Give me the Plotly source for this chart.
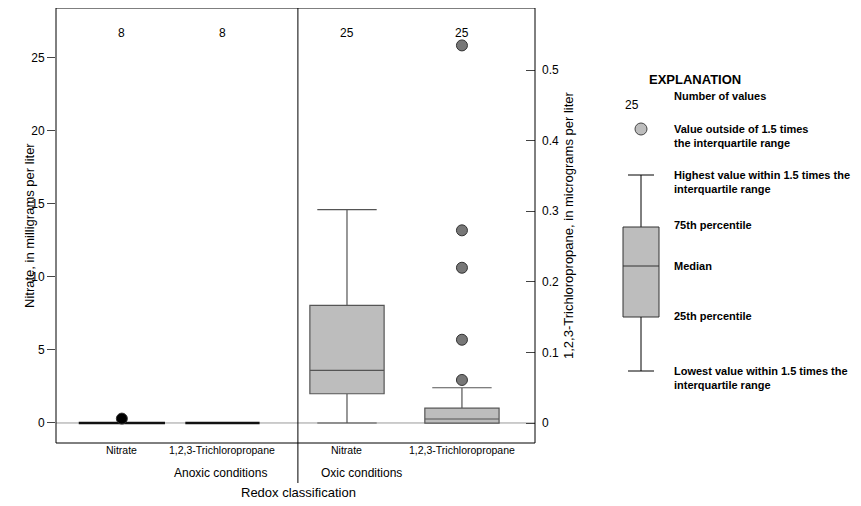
import plotly.graph_objects as go

F = "Liberation Sans"
positions = [0.55, 1.39, 2.43, 3.39]
cat_labels = ["Nitrate", "1,2,3-Trichloropropane", "Nitrate", "1,2,3-Trichloropropane"]
counts = ["8", "8", "25", "25"]
axis_of = ["y", "y2", "y", "y2"]
q1 = [0, 0, 2.0, 0.0]
med = [0, 0, 3.6, 0.0057]
q3 = [0, 0, 8.05, 0.021]
lo = [0, 0, 0, 0]
hi = [0, 0, 14.6, 0.05]
widths = [0.72, 0.62, 0.62, 0.62]
out_x = [0.55, 3.39, 3.39, 3.39, 3.39, 3.39]
out_y = [0.3, 0.061, 0.118, 0.22, 0.273, 0.535]
out_axis = ["y", "y2", "y2", "y2", "y2", "y2"]

W, H = 861, 506
L, R, T, B = 48, 527, 0, 435
def px(x): return (x - L) / (R - L)
def py(y): return (B - y) / (B - T)

fig = go.Figure()
for i in range(4):
    flat = q3[i] == q1[i]
    fig.add_trace(go.Box(x=[positions[i]], q1=[q1[i]], median=[med[i]], q3=[q3[i]],
                         lowerfence=[lo[i]], upperfence=[hi[i]], width=widths[i],
                         whiskerwidth=0.8, yaxis=axis_of[i], fillcolor="#bdbdbd",
                         line=dict(color="#111" if flat else "#555", width=2.5 if flat else 1.2),
                         boxpoints=False, showlegend=False, hoverinfo="skip"))
for x, y, a in zip(out_x, out_y, out_axis):
    fig.add_trace(go.Scatter(x=[x], y=[y], yaxis=a, mode="markers", showlegend=False,
                             marker=dict(size=11, color="#000" if a == "y" else "#777",
                                         line=dict(color="#333", width=1))))

shapes = [
    dict(type="line", xref="x", yref="y", x0=0, x1=4, y0=0, y1=0, line=dict(color="#999", width=1), layer="below"),
    dict(type="line", xref="x", yref="paper", x0=2.02, x1=2.02, y0=py(475), y1=1, line=dict(color="#000", width=1)),
    dict(type="rect", xref="paper", yref="paper", x0=0, x1=1, y0=0, y1=1, line=dict(color="#000", width=1)),
    dict(type="line", xref="paper", yref="paper", x0=px(620), x1=px(646), y0=py(167), y1=py(167), line=dict(color="#000", width=1)),
    dict(type="line", xref="paper", yref="paper", x0=px(633), x1=px(633), y0=py(167), y1=py(219), line=dict(color="#000", width=1)),
    dict(type="rect", xref="paper", yref="paper", x0=px(615), x1=px(651), y0=py(309), y1=py(219), fillcolor="#bdbdbd", line=dict(color="#333", width=1)),
    dict(type="line", xref="paper", yref="paper", x0=px(615), x1=px(651), y0=py(258), y1=py(258), line=dict(color="#333", width=1)),
    dict(type="line", xref="paper", yref="paper", x0=px(633), x1=px(633), y0=py(309), y1=py(363), line=dict(color="#000", width=1)),
    dict(type="line", xref="paper", yref="paper", x0=px(620), x1=px(646), y0=py(363), y1=py(363), line=dict(color="#000", width=1)),
    dict(type="circle", xref="paper", yref="paper", x0=px(627), x1=px(639), y0=py(127), y1=py(115), fillcolor="#bdbdbd", line=dict(color="#444", width=1)),
]
ann = []
for p, c, lab in zip(positions, counts, cat_labels):
    ann.append(dict(x=p, y=py(16), xref="x", yref="paper", text=c, showarrow=False, font=dict(size=12)))
    ann.append(dict(x=p, y=py(450), xref="x", yref="paper", text=lab, showarrow=False, font=dict(size=10.5)))
for t, x, y, s in [("Anoxic conditions", 164, 474, 12), ("Oxic conditions", 396, 474, 12), ("Redox classification", 290, 494, 13)]:
    ann.append(dict(x=px(x), y=py(y), xref="paper", yref="paper", text=t, showarrow=False, font=dict(size=s)))
ann.append(dict(x=px(735), y=py(62), xref="paper", yref="paper", text="<b>EXPLANATION</b>", showarrow=False, font=dict(size=13)))
ann.append(dict(x=px(633), y=py(88), xref="paper", yref="paper", text="25", showarrow=False, font=dict(size=12)))
for t, y in [("Number of values", 88), ("Value outside of 1.5 times<br>the interquartile range", 121),
             ("Highest value within 1.5 times the<br>interquartile range", 167), ("75th percentile", 217),
             ("Median", 258), ("25th percentile", 308), ("Lowest value within 1.5 times the<br>interquartile range", 363)]:
    two = "<br>" in t
    ann.append(dict(x=px(664), y=py(y - 8) if two else py(y), xref="paper", yref="paper", text="<b>" + t + "</b>",
                    showarrow=False, xanchor="left", yanchor="top" if two else "middle", align="left",
                    font=dict(size=11)))
ann.append(dict(x=px(570), y=0.5, xref="paper", yref="paper", text="1,2,3-Trichloropropane, in micrograms per liter",
                textangle=-90, showarrow=False, font=dict(size=13)))
ann.append(dict(x=px(12), y=0.5, xref="paper", yref="paper", text="Nitrate, in milligrams per liter",
                textangle=-90, showarrow=False, font=dict(size=13)))

fig.update_layout(
    width=W, height=H, margin=dict(l=L, r=W - R, t=T, b=H - B),
    paper_bgcolor="white", plot_bgcolor="white", font=dict(family=F, color="#000"),
    shapes=shapes, annotations=ann,
    xaxis=dict(range=[0, 4], showticklabels=False, showgrid=False, zeroline=False, ticks="", automargin=False),
    yaxis=dict(range=[-1.37, 28.4], tickvals=[0, 5, 10, 15, 20, 25], ticks="outside", ticklen=8,
               showgrid=False, zeroline=False, tickfont=dict(size=12), automargin=False),
    yaxis2=dict(range=[-0.0283, 0.588], overlaying="y", side="right", tickvals=[0, 0.1, 0.2, 0.3, 0.4, 0.5],
                ticks="inside", ticklen=9, showgrid=False, zeroline=False, tickfont=dict(size=12),
                ticklabelstandoff=6, automargin=False),
)
fig.write_html("out.html")
